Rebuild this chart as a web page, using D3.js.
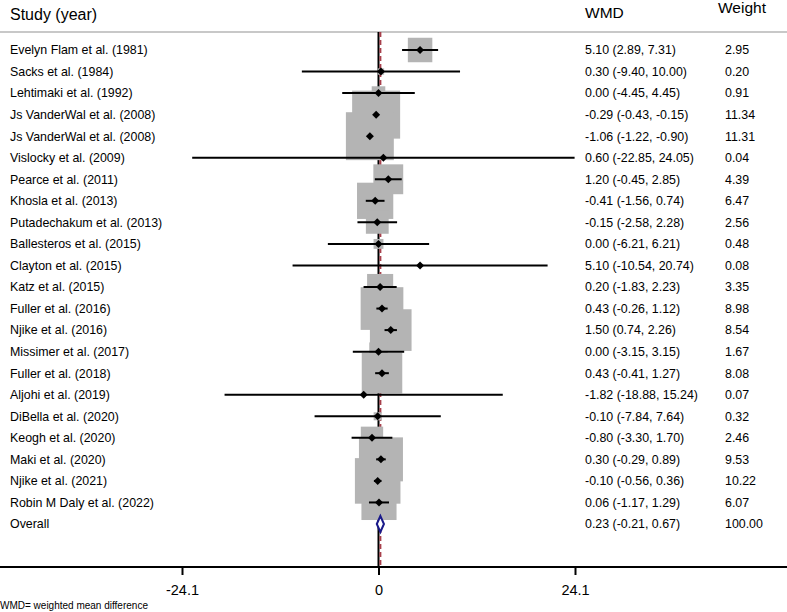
<!DOCTYPE html>
<html><head><meta charset="utf-8">
<script src="https://cdn.jsdelivr.net/npm/d3@7"></script>
<style>body{margin:0;background:#fff;} svg{display:block;font-family:"Liberation Sans",Arial,sans-serif;}</style>
</head><body>
<svg id="c" width="787" height="612"></svg>
<script>
const studies = ["Evelyn Flam et al. (1981)","Sacks et al. (1984)","Lehtimaki et al. (1992)","Js VanderWal et al. (2008)","Js VanderWal et al. (2008)","Vislocky et al. (2009)","Pearce et al. (2011)","Khosla et al. (2013)","Putadechakum et al. (2013)","Ballesteros et al. (2015)","Clayton et al. (2015)","Katz et al. (2015)","Fuller et al. (2016)","Njike et al. (2016)","Missimer et al. (2017)","Fuller et al. (2018)","Aljohi et al. (2019)","DiBella et al. (2020)","Keogh et al. (2020)","Maki et al. (2020)","Njike et al. (2021)","Robin M Daly et al. (2022)"];
const wmd   = [5.10,0.30,0.00,-0.29,-1.06,0.60,1.20,-0.41,-0.15,0.00,5.10,0.20,0.43,1.50,0.00,0.43,-1.82,-0.10,-0.80,0.30,-0.10,0.06];
const lower = [2.89,-9.40,-4.45,-0.43,-1.22,-22.85,-0.45,-1.56,-2.58,-6.21,-10.54,-1.83,-0.26,0.74,-3.15,-0.41,-18.88,-7.84,-3.30,-0.29,-0.56,-1.17];
const upper = [7.31,10.00,4.45,-0.15,-0.90,24.05,2.85,0.74,2.28,6.21,20.74,2.23,1.12,2.26,3.15,1.27,15.24,7.64,1.70,0.89,0.36,1.29];
const weight = ["2.95","0.20","0.91","11.34","11.31","0.04","4.39","6.47","2.56","0.48","0.08","3.35","8.98","8.54","1.67","8.08","0.07","0.32","2.46","9.53","10.22","6.07"];
const overall = {label:"Overall", wmd:0.23, lower:-0.21, upper:0.67, weight:"100.00"};
const tickValues = [-24.1, 0, 24.1];
const tickLabels = ["-24.1","0","24.1"];
const headers = ["Study (year)","WMD","Weight"];
const footnote = "WMD= weighted mean difference";

const svg = d3.select("#c");
const x = d3.scaleLinear().domain([-24.1, 24.1]).range([182, 575]);
const rows = studies.concat([overall.label]);
const y = d3.scalePoint().domain(d3.range(rows.length)).range([50, 524]);
const side = d3.scaleSqrt().domain([0, 11.34]).range([0, 48]);
const axisY = 567;

// header
svg.append("line").attr("x1",0).attr("x2",787).attr("y1",32).attr("y2",32).attr("stroke","#c8c8c8").attr("stroke-width",2);
svg.append("text").attr("x",10).attr("y",20).attr("font-size",16).text(headers[0]);
svg.append("text").attr("x",585).attr("y",18).attr("font-size",15.5).text(headers[1]);
svg.append("text").attr("x",718).attr("y",13).attr("font-size",15.5).text(headers[2]);

// reference lines
svg.append("line").attr("x1",x(0)).attr("x2",x(0)).attr("y1",32).attr("y2",axisY).attr("stroke","#000").attr("stroke-width",2);
svg.append("line").attr("x1",x(overall.wmd)).attr("x2",x(overall.wmd)).attr("y1",32).attr("y2",axisY)
  .attr("stroke","#a8404c").attr("stroke-width",2).attr("stroke-dasharray","5,3");

const idx = d3.range(studies.length);
// boxes
svg.append("g").selectAll("rect").data(idx).join("rect")
  .attr("x", i => x(wmd[i]) - side(+weight[i])/2)
  .attr("y", i => y(i) - side(+weight[i])/2)
  .attr("width", i => side(+weight[i]))
  .attr("height", i => side(+weight[i]))
  .attr("fill","#b4b4b4");
// CI lines
svg.append("g").selectAll("line").data(idx).join("line")
  .attr("x1", i => x(lower[i])).attr("x2", i => x(upper[i]))
  .attr("y1", i => y(i)).attr("y2", i => y(i))
  .attr("stroke","#000").attr("stroke-width",2);
// point markers
svg.append("g").selectAll("path").data(idx).join("path")
  .attr("transform", i => `translate(${x(wmd[i])},${y(i)})`)
  .attr("d","M0,-4L4,0L0,4L-4,0Z").attr("fill","#000");

// overall diamond
const oy = y(studies.length);
svg.append("path")
  .attr("d", `M${x(overall.lower)},${oy}L${x(overall.wmd)},${oy-8}L${x(overall.upper)},${oy}L${x(overall.wmd)},${oy+8}Z`)
  .attr("fill","#fff").attr("stroke","#1a1a8a").attr("stroke-width",2);

// text columns
const g = svg.append("g").attr("font-size",12.4);
g.selectAll("text.l").data(rows).join("text").attr("class","l")
  .attr("x",10).attr("y",(d,i)=>y(i)).attr("dy","0.35em").text(d=>d);
const f = v => d3.format(".2f")(v).replace(/\u2212/g,"-");
const est = idx.map(i => `${f(wmd[i])} (${f(lower[i])}, ${f(upper[i])})`).concat([`${f(overall.wmd)} (${f(overall.lower)}, ${f(overall.upper)})`]);
g.selectAll("text.e").data(est).join("text").attr("class","e")
  .attr("x",585).attr("y",(d,i)=>y(i)).attr("dy","0.35em").text(d=>d);
g.selectAll("text.w").data(weight.concat([overall.weight])).join("text").attr("class","w")
  .attr("x",725).attr("y",(d,i)=>y(i)).attr("dy","0.35em").text(d=>d);

// axis
svg.append("line").attr("x1",0).attr("x2",787).attr("y1",axisY).attr("y2",axisY).attr("stroke","#000").attr("stroke-width",2);
const axis = d3.axisBottom(x).tickValues(tickValues).tickFormat((d,i)=>tickLabels[i]).tickSize(8).tickPadding(10);
const ag = svg.append("g").attr("transform",`translate(0,${axisY})`).call(axis);
ag.select(".domain").remove();
ag.selectAll(".tick line").attr("stroke","#000").attr("stroke-width",2);
ag.selectAll(".tick text").attr("font-size",14.5).attr("fill","#000").attr("font-family","Liberation Sans, Arial, sans-serif");

svg.append("text").attr("x",0).attr("y",609).attr("font-size",10).text(footnote);
</script>
</body></html>
